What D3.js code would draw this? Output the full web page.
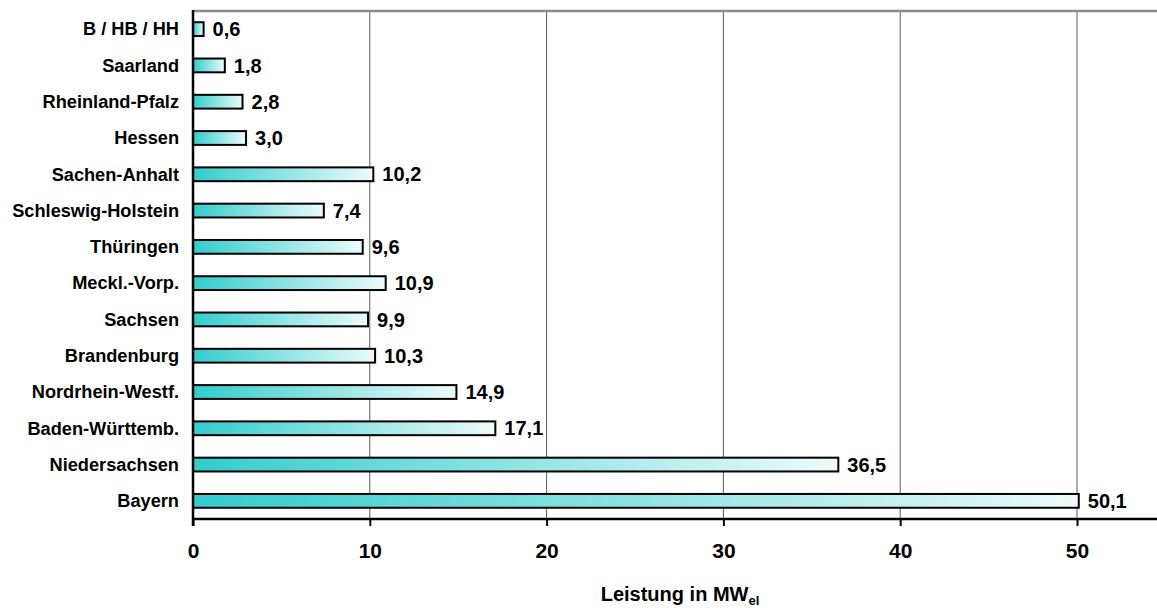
<!DOCTYPE html>
<html>
<head>
<meta charset="utf-8">
<script src="https://cdn.jsdelivr.net/npm/d3@7"></script>
<style>
  html, body { margin: 0; padding: 0; background: #fff; }
  svg { display: block; font-family: "Liberation Sans", Arial, sans-serif; font-weight: bold; }
</style>
</head>
<body>
<svg id="chart" width="1157" height="608"></svg>
<script>
// Installed electrical capacity per federal state (MW_el)
const categories = [
  "B / HB / HH", "Saarland", "Rheinland-Pfalz", "Hessen", "Sachen-Anhalt",
  "Schleswig-Holstein", "Thüringen", "Meckl.-Vorp.", "Sachsen", "Brandenburg",
  "Nordrhein-Westf.", "Baden-Württemb.", "Niedersachsen", "Bayern"
];
const values = [0.6, 1.8, 2.8, 3.0, 10.2, 7.4, 9.6, 10.9, 9.9, 10.3, 14.9, 17.1, 36.5, 50.1];
const xTicks = [0, 10, 20, 30, 40, 50];

const svg = d3.select("#chart");
const margin = { left: 193, right: 1157, top: 11, bottom: 519 };

const x = d3.scaleLinear().domain([0, 50]).range([margin.left, 1077]);
const y = d3.scaleBand().domain(categories).range([margin.top, margin.bottom]).paddingInner(0.62).paddingOuter(0.31);

// gradient fill, spanning each bar's own length
const defs = svg.append("defs");
const grad = defs.append("linearGradient").attr("id", "barGrad")
  .attr("x1", "0%").attr("x2", "100%").attr("y1", "0%").attr("y2", "0%");
grad.append("stop").attr("offset", "0%").attr("stop-color", "#33CCCC");
grad.append("stop").attr("offset", "100%").attr("stop-color", "#ECFBFB");

// vertical gridlines
svg.append("g").selectAll("line").data(xTicks.filter(d => d > 0)).join("line")
  .attr("x1", d => x(d)).attr("x2", d => x(d))
  .attr("y1", margin.top).attr("y2", margin.bottom)
  .attr("stroke", "#5a5a5a").attr("stroke-width", 1);

// top frame line
svg.append("line")
  .attr("x1", margin.left).attr("x2", margin.right)
  .attr("y1", margin.top).attr("y2", margin.top)
  .attr("stroke", "#8c8c8c").attr("stroke-width", 2.5);

// bars
svg.append("g").selectAll("rect").data(values).join("rect")
  .attr("x", x(0))
  .attr("y", (d, i) => y(categories[i]))
  .attr("width", d => x(d) - x(0))
  .attr("height", y.bandwidth())
  .attr("fill", "url(#barGrad)")
  .attr("stroke", "#000").attr("stroke-width", 2);

// value labels
svg.append("g").selectAll("text").data(values).join("text")
  .attr("transform", (d, i) => `translate(${x(d) + 9},${y(categories[i]) + y.bandwidth() / 2})`)
  .attr("dy", "0.36em")
  .attr("font-size", 20)
  .attr("fill", "#000")
  .text(d => d.toFixed(1).replace(".", ","));

// category labels
svg.append("g").selectAll("text").data(categories).join("text")
  .attr("transform", d => `translate(179,${y(d) + y.bandwidth() / 2}) scale(1.04,1)`)
  .attr("dy", "0.36em")
  .attr("text-anchor", "end")
  .attr("font-size", 17.5)
  .attr("fill", "#000")
  .text(d => d);

// left axis line
svg.append("line")
  .attr("x1", margin.left).attr("x2", margin.left)
  .attr("y1", margin.top - 1).attr("y2", margin.bottom + 7)
  .attr("stroke", "#000").attr("stroke-width", 2.5);

// bottom axis
const xAxis = d3.axisBottom(x).tickValues(xTicks).tickSize(7).tickPadding(17)
  .tickFormat(d => d);
const gx = svg.append("g").attr("transform", `translate(0,${margin.bottom})`).call(xAxis);
gx.select(".domain").remove();
gx.selectAll(".tick line").attr("stroke", "#000").attr("stroke-width", 2);
gx.selectAll(".tick text").attr("font-size", 21).attr("font-family", "Liberation Sans, Arial, sans-serif")
  .attr("font-weight", "bold").attr("fill", "#000");
svg.append("line")
  .attr("x1", margin.left).attr("x2", margin.right)
  .attr("y1", margin.bottom).attr("y2", margin.bottom)
  .attr("stroke", "#000").attr("stroke-width", 2.5);

// axis title with subscript
const title = svg.append("text")
  .attr("x", 680)
  .attr("y", 601)
  .attr("text-anchor", "middle")
  .attr("font-size", 20)
  .attr("fill", "#000");
title.append("tspan").text("Leistung in MW");
title.append("tspan").attr("font-size", 13).attr("dy", 4).text("el");
</script>
</body>
</html>
